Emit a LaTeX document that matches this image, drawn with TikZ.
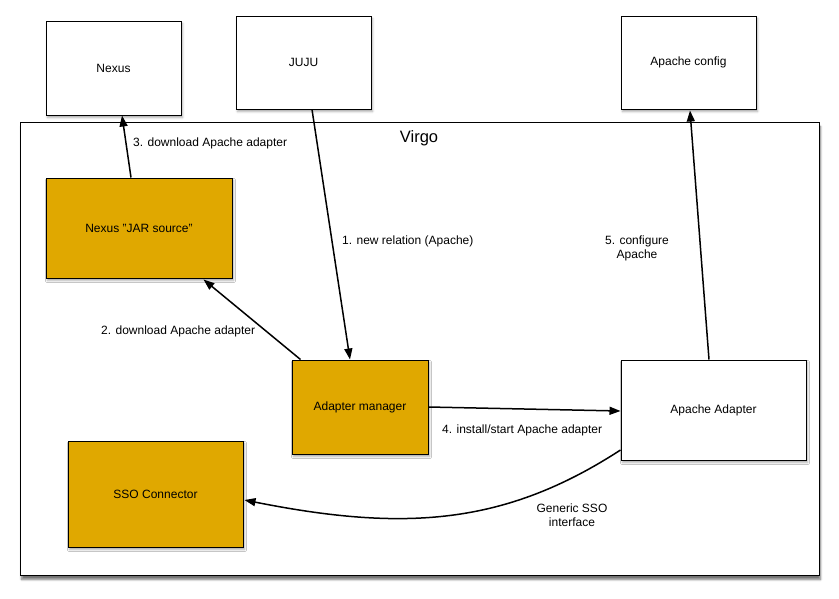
\documentclass[tikz,border=0pt]{standalone}
\usepackage{fontspec}
\setmainfont{Liberation Sans}
\usetikzlibrary{arrows.meta}
\usetikzlibrary{shadows.blur}
\definecolor{adaptorange}{RGB}{224,168,0}

\begin{document}
\begin{tikzpicture}[x=1pt,y=-1pt,
	box/.style={draw, line width=1pt, fill=white, font=\fontsize{12}{14}\selectfont, blur shadow={shadow xshift=1.5pt, shadow yshift=-2.5pt, shadow blur steps=4, shadow opacity=35}},
	obox/.style={box, fill=adaptorange},
	arr/.style={-{Triangle[length=11pt,width=8pt]}, line width=1.5pt},
	lbl/.style={font=\fontsize{12}{14}\selectfont, inner sep=0pt}]
	\useasboundingbox (0,0) rectangle (839,598);
	
	\node[draw, line width=1pt, fill=white, minimum width=799pt, minimum height=453pt, anchor=north west, blur shadow={shadow xshift=1pt, shadow yshift=-4pt, shadow blur steps=6, shadow opacity=55}] (virgo) at (20,122) {};
	\node[font=\fontsize{16.5}{18}\selectfont] (virgolbl) at (419,138) {Virgo};
	
	\node[box, minimum width=135pt, minimum height=94pt] (nexus) at (113.5,68) {Nexus};
	\node[box, minimum width=135pt, minimum height=93pt] (juju) at (303.5,62.5) {JUJU};
	\node[box, minimum width=135pt, minimum height=93pt] (apconf) at (688.5,62.5) {Apache config};
	
	\node[obox, minimum width=186pt, minimum height=100pt] (jarsrc) at (139,228) {Nexus "JAR source"};
	\node[obox, minimum width=136pt, minimum height=94pt] (manager) at (360,407) {Adapter manager};
	\node[box, minimum width=185pt, minimum height=100pt] (apadapter) at (713.5,410) {Apache Adapter};
	\node[obox, minimum width=175pt, minimum height=106pt] (sso) at (155.5,494) {SSO Connector};
	
	\draw[arr] ([xshift=-8pt]jarsrc.north) -- ([xshift=8.5pt]nexus.south);
	\node[lbl, anchor=west] (l3) at (133,143) {3. download Apache adapter};
	
	\draw[arr] ([xshift=8.5pt]juju.south) -- ([xshift=-10pt]manager.north);
	\node[lbl, anchor=west] (l1) at (342,241) {1. new relation (Apache)};
	
	\draw[arr] ([xshift=9pt]manager.north west) -- ([xshift=-29pt,yshift=-1pt]jarsrc.south east);
	\node[lbl, anchor=west] (l2) at (101,331) {2. download Apache adapter};
	
	\draw[arr] (manager.east) -- ([yshift=-1pt]apadapter.west);
	\node[lbl, anchor=west] (l4) at (442,430) {4. install/start Apache adapter};
	
	\draw[arr] ([xshift=-4.5pt]apadapter.north) -- ([xshift=1.5pt,yshift=-1pt]apconf.south);
	\node[lbl, align=center] (l5) at (637,248) {5. configure\\Apache};
	
	\draw[arr] ([yshift=-40pt]apadapter.west) .. controls (505,525) and (405,532) .. ([xshift=1pt,yshift=-6pt]sso.east);
	\node[lbl, align=center] (l6) at (572,515) {Generic SSO\\interface};
\end{tikzpicture}
\end{document}
